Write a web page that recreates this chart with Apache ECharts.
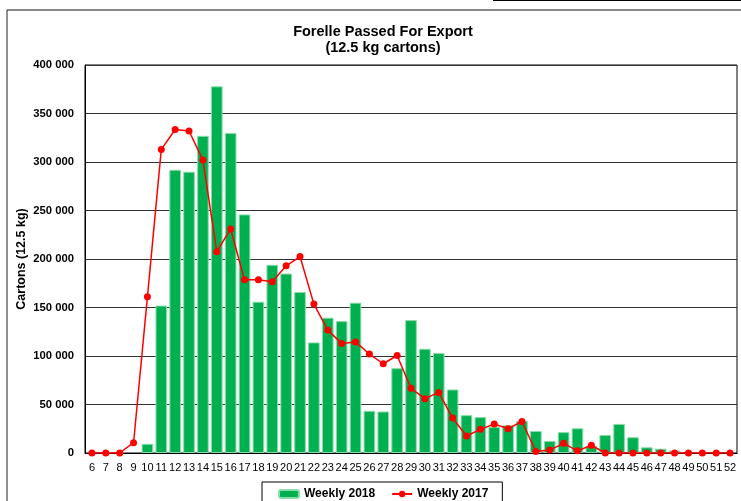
<!DOCTYPE html>
<html>
<head>
<meta charset="utf-8">
<script src="https://cdn.jsdelivr.net/npm/echarts@6/dist/echarts.min.js"></script>
<style>
  html, body { margin: 0; padding: 0; background: #fff; }
  #chart { width: 741px; height: 501px; }
</style>
</head>
<body>
<div id="chart"></div>
<script>
const weeks = [];
for (let w = 6; w <= 52; w++) weeks.push(String(w));

// weeks 6..52
const weekly2018 = [
  null, null, null, null, 9500, 152000, 292000, 290000, 327000, 378000,
  330000, 246000, 156000, 194000, 185000, 166000, 114000, 139500, 136000, 155000,
  43500, 42800, 87500, 137000, 107500, 103000, 65500, 39000, 37000, 27000,
  28500, 33000, 22700, 12400, 21500, 25500, 7200, 18600, 30000, 16300,
  5900, 4400, 2500, null, null, null, null
];
const weekly2017 = [
  0, 0, 0, 10600, 161000, 313000, 333500, 332000, 302000, 207500,
  231000, 178500, 178500, 176500, 193000, 202500, 153500, 126700, 113000, 114500,
  102000, 92000, 100500, 66700, 56000, 62500, 36000, 17500, 24400, 29900,
  25100, 32500, 1500, 3000, 10000, 2200, 8000, 0, 0, 0,
  0, 0, 0, 0, 0, 0, 0
];

const chart = echarts.init(document.getElementById('chart'));
const font = 'Liberation Sans, Arial, sans-serif';

chart.setOption({
  animation: false,
  textStyle: { fontFamily: font },
  title: {
    text: 'Forelle Passed For Export\n(12.5 kg cartons)',
    left: 378, top: 19, textAlign: 'center',
    textStyle: { fontSize: 14.5, fontWeight: 'bold', color: '#000', lineHeight: 16, fontFamily: font }
  },
  grid: { left: 85, right: 4, top: 65, bottom: 48, show: true, borderColor: '#000', borderWidth: 1 },
  legend: {
    left: 262, top: 482,
    padding: [6, 14, 10, 16],
    borderColor: '#000', borderWidth: 1,
    itemWidth: 20, itemHeight: 8, itemGap: 16,
    textStyle: { fontSize: 12, fontWeight: 'bold', color: '#000', fontFamily: font },
    data: ['Weekly 2018', 'Weekly 2017']
  },
  xAxis: {
    type: 'category',
    data: weeks,
    axisLine: { lineStyle: { color: '#000', width: 1 } },
    axisTick: { show: false },
    axisLabel: { interval: 0, fontSize: 11, color: '#000', margin: 9, fontFamily: font }
  },
  yAxis: {
    type: 'value',
    min: 0, max: 400000, interval: 50000,
    name: 'Cartons (12.5 kg)',
    nameLocation: 'middle',
    nameGap: 57,
    nameMoveOverlap: false,
    nameTextStyle: { fontSize: 12.5, fontWeight: 'bold', color: '#000', fontFamily: font },
    axisLine: { show: true, lineStyle: { color: '#000' } },
    axisTick: { show: false },
    splitLine: { lineStyle: { color: '#333', width: 1 } },
    axisLabel: {
      fontSize: 11.3, fontWeight: 'bold', color: '#000', margin: 11, fontFamily: font,
      formatter: v => String(v).replace(/\B(?=(\d{3})+(?!\d))/g, ' ')
    }
  },
  series: [
    {
      name: 'Weekly 2018',
      type: 'bar',
      data: weekly2018,
      barCategoryGap: '16%',
      itemStyle: { color: '#00b050', borderColor: '#8cdcaa', borderWidth: 1 }
    },
    {
      name: 'Weekly 2017',
      type: 'line',
      data: weekly2017,
      symbol: 'circle',
      symbolSize: 7,
      lineStyle: { color: '#ff0000', width: 1.5 },
      itemStyle: { color: '#ff0000' }
    }
  ],
  graphic: [
    { type: 'line', shape: { x1: 7, y1: 10, x2: 741, y2: 10 }, style: { stroke: '#888', lineWidth: 2 } },
    { type: 'line', shape: { x1: 7, y1: 10, x2: 7, y2: 501 }, style: { stroke: '#222', lineWidth: 1 } },
    { type: 'line', shape: { x1: 493, y1: 0.5, x2: 741, y2: 0.5 }, style: { stroke: '#000', lineWidth: 1 } }
  ]
});
</script>
</body>
</html>
